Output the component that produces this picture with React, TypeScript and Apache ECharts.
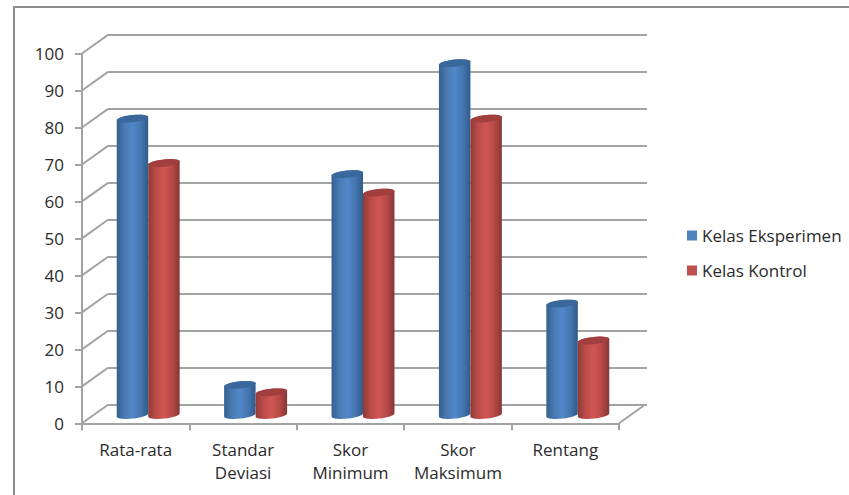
import React, { useEffect, useRef } from "react";
import * as echarts from "echarts";

const categories = ["Rata-rata", "Standar\nDeviasi", "Skor\nMinimum", "Skor\nMaksimum", "Rentang"];
const kelasEksperimen = [80, 8, 65, 95, 30];
const kelasKontrol = [68, 6, 60, 80, 20];
const yTicks = [0, 10, 20, 30, 40, 50, 60, 70, 80, 90, 100];

const FONT = "Open Sans";
const TEXT = "#2b2b2b";
const GRID = "#a3a3a3";
// Offset of the back wall relative to the front plane.
const DEPTH_X = 26;
const DEPTH_Y = 18.6;
const BAR_SHARE = 0.293;

const blue = { stops: ["#33608f", "#4a7ab2", "#5088ca", "#4677b0", "#2f5b8c"], cap: "#38689c", legend: "#4f81bd" };
const red = { stops: ["#8f3a38", "#bc4c49", "#cf5653", "#b84a48", "#873634"], cap: "#a03f3d", legend: "#c0504d" };

function ellipsePoints(cx: number, cy: number, rx: number, ry: number, from: number, to: number) {
  const pts: number[][] = [];
  const steps = 28;
  for (let i = 0; i <= steps; i++) {
    const t = from + ((to - from) * i) / steps;
    const dx = rx * Math.cos(t);
    pts.push([cx + dx, cy + ry * Math.sin(t) - dx * 0.1]);
  }
  return pts;
}

// One cylinder: a shaded body with a darker elliptical cap, set midway into the floor's depth.
function cylinder(palette: typeof blue, side: number) {
  return (params: any, api: any) => {
    const base = api.coord([api.value(0), 0]);
    const top = api.coord([api.value(0), api.value(1)]);
    const w = api.size([1, 0])[0] * BAR_SHARE;
    const cx = base[0] + DEPTH_X / 2 + (side * w) / 2 - 0.5;
    const rx = w / 2;
    const ry = 3.6;
    const yBase = base[1] - DEPTH_Y / 2 + 1;
    const yTop = top[1] - DEPTH_Y / 2 + 0.5;
    const body = [
      ...ellipsePoints(cx, yTop, rx, ry, Math.PI, 2 * Math.PI),
      ...ellipsePoints(cx, yBase, rx, ry, 0, Math.PI),
    ];
    const n = palette.stops.length - 1;
    return {
      type: "group",
      children: [
        {
          type: "polygon",
          shape: { points: body },
          style: {
            fill: {
              type: "linear", x: 0, y: 0, x2: 1, y2: 0,
              colorStops: palette.stops.map((color, i) => ({ offset: i / n, color })),
            },
          },
        },
        {
          type: "polygon",
          shape: { points: ellipsePoints(cx, yTop, rx, ry, 0, 2 * Math.PI) },
          style: { fill: palette.cap },
        },
      ],
    };
  };
}

// Receding edge from a point on the front plane to the back wall.
function depthEdge(atRight: boolean) {
  return (params: any, api: any) => {
    const y = api.coord([0, api.value(1)])[1];
    const x = params.coordSys.x + (atRight ? params.coordSys.width : 0);
    return {
      type: "line",
      shape: { x1: x, y1: y, x2: x + DEPTH_X, y2: y - DEPTH_Y },
      style: { stroke: GRID, lineWidth: 2 },
    };
  };
}

export default function App() {
  const ref = useRef<HTMLDivElement>(null);
  useEffect(() => {
    document.body.style.margin = "0";
    const chart = echarts.init(ref.current!, null, { renderer: "svg" });
    chart.setOption({
      animation: false,
      backgroundColor: "#ffffff",
      textStyle: { fontFamily: FONT },
      graphic: [
        {
          type: "polyline",
          shape: { points: [[14, 495], [14, 7], [849, 7]] },
          style: { stroke: "#8c8c8c", lineWidth: 2, fill: "none" },
        },
      ],
      legend: {
        orient: "vertical",
        left: 682,
        top: 221,
        icon: "rect",
        itemWidth: 10,
        itemHeight: 10,
        itemGap: 16,
        data: ["Kelas Eksperimen", "Kelas Kontrol"],
        textStyle: { fontFamily: FONT, fontSize: 17, color: TEXT, lineHeight: 19 },
      },
      grid: [
        { left: 82, top: 53.5, width: 537, height: 369.8 },
        { left: 108, top: 34.9, width: 539, height: 369.8 },
      ],
      xAxis: [
        {
          type: "category",
          gridIndex: 0,
          data: categories,
          axisLine: { lineStyle: { color: GRID, width: 2 } },
          axisTick: { show: true, alignWithLabel: false, length: 7, lineStyle: { color: GRID, width: 2 } },
          axisLabel: { interval: 0, margin: 15, fontFamily: FONT, fontSize: 17, lineHeight: 23, color: TEXT },
        },
        { type: "category", gridIndex: 1, data: categories, show: false },
      ],
      yAxis: [
        {
          type: "value",
          gridIndex: 0,
          min: 0,
          max: 100,
          interval: 10,
          splitLine: { show: false },
          axisLine: { show: true, lineStyle: { color: GRID, width: 2 } },
          axisTick: { show: true, length: 7, lineStyle: { color: GRID, width: 2 } },
          axisLabel: { margin: 18, padding: [4, 0, 0, 0], fontFamily: FONT, fontSize: 17, color: TEXT },
        },
        {
          type: "value",
          gridIndex: 1,
          min: 0,
          max: 100,
          interval: 10,
          axisLine: { show: false },
          axisTick: { show: false },
          axisLabel: { show: false },
          splitLine: { show: true, lineStyle: { color: GRID, width: 2 } },
        },
      ],
      series: [
        {
          type: "custom",
          name: "edges",
          silent: true,
          clip: false,
          z: 1,
          data: yTicks.map((v) => [0, v]),
          renderItem: depthEdge(false),
        },
        {
          type: "custom",
          name: "floor",
          silent: true,
          clip: false,
          z: 1,
          data: [[0, yTicks[0]]],
          renderItem: depthEdge(true),
        },
        {
          type: "custom",
          name: "Kelas Eksperimen",
          clip: false,
          z: 3,
          itemStyle: { color: blue.legend },
          encode: { x: 0, y: 1 },
          data: kelasEksperimen.map((v, i) => [i, v]),
          renderItem: cylinder(blue, -1),
        },
        {
          type: "custom",
          name: "Kelas Kontrol",
          clip: false,
          z: 4,
          itemStyle: { color: red.legend },
          encode: { x: 0, y: 1 },
          data: kelasKontrol.map((v, i) => [i, v]),
          renderItem: cylinder(red, 1),
        },
      ],
    });
    return () => chart.dispose();
  }, []);
  return <div ref={ref} style={{ width: 849, height: 495 }} />;
}
